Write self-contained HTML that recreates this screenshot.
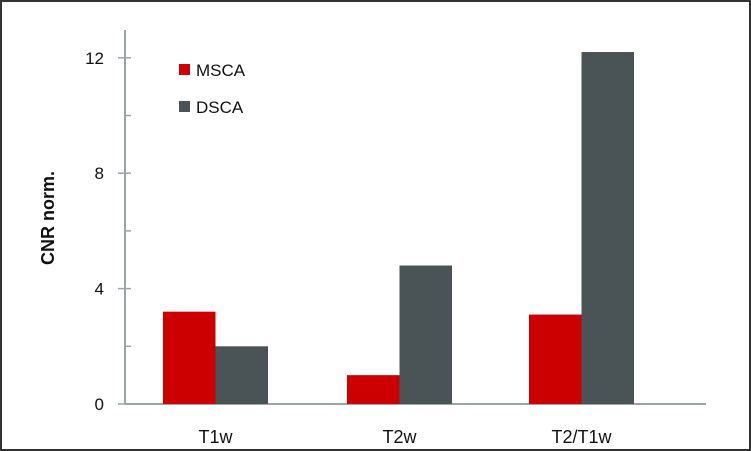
<!DOCTYPE html>
<html><head><meta charset="utf-8"><style>
html,body{margin:0;padding:0;background:#fff;}
svg{display:block;font-family:"Liberation Sans",sans-serif;}
</style></head><body>
<svg width="751" height="451">
<rect x="1" y="1" width="749" height="449" fill="#fff" stroke="#333" stroke-width="2"/>
<g id="axes"></g>
<g id="bars"></g>
<text x="0" y="0" transform="translate(54,218) rotate(-90)" text-anchor="middle" font-size="18" font-weight="bold" fill="#111">CNR norm.</text>
<rect x="179" y="64" width="11" height="11" fill="#cc0000"/>
<text x="196" y="76" font-size="17" fill="#111">MSCA</text>
<rect x="179" y="101" width="11" height="11" fill="#4a5456"/>
<text x="196" y="113" font-size="17" fill="#111">DSCA</text>
</svg>
<script>
const categories = ["T1w","T2w","T2/T1w"];
const msca = [3.2, 1.0, 3.1];
const dsca = [2.0, 4.8, 12.2];
const yTicks = [0,4,8,12];
const yMinor = [2,6,10];
const NS="http://www.w3.org/2000/svg";
const y0=404, pxPerUnit=28.85, x0=125;
const y = v => y0 - v*pxPerUnit;
const groupLeft = [163, 347, 529];
const barW = 52.5;
const axes=document.getElementById('axes'), bars=document.getElementById('bars');
function mk(tag, attrs, parent){const e=document.createElementNS(NS,tag);for(const k in attrs)e.setAttribute(k,attrs[k]);parent.appendChild(e);return e;}
let l=mk('line',{x1:x0,y1:30,x2:x0,y2:y0,stroke:'#9aa5a5','stroke-width':2},axes);


l=mk('line',{x1:x0,y1:y0,x2:706,y2:y0,stroke:'#9aa5a5','stroke-width':2},axes);


yTicks.forEach(v=>{
  const t=mk('line',{x1:118,y1:y(v),x2:131,y2:y(v),stroke:'#9aa5a5','stroke-width':1.5},axes);
  
  
  const tx=mk('text',{x:104,y:y(v)+6,'text-anchor':'end','font-size':17,fill:'#111'},axes);
  tx.textContent=v;
  
  
});
yMinor.forEach(v=>{
  const t=mk('line',{x1:125,y1:y(v),x2:131,y2:y(v),stroke:'#9aa5a5','stroke-width':1.5},axes);
  
  
});
categories.forEach((c,i)=>{
  const gx=groupLeft[i];
  let r=mk('rect',{x:gx,y:y(msca[i]),width:barW,height:y0-y(msca[i]),fill:'#cc0000'},bars);
  
  
  r=mk('rect',{x:gx+barW,y:y(dsca[i]),width:barW,height:y0-y(dsca[i]),fill:'#4a5456'},bars);
  
  
  const t=mk('text',{x:gx+barW,y:443,'text-anchor':'middle','font-size':18,fill:'#111'},bars);
  t.textContent=c;
  
  
});
</script>
</body></html>
